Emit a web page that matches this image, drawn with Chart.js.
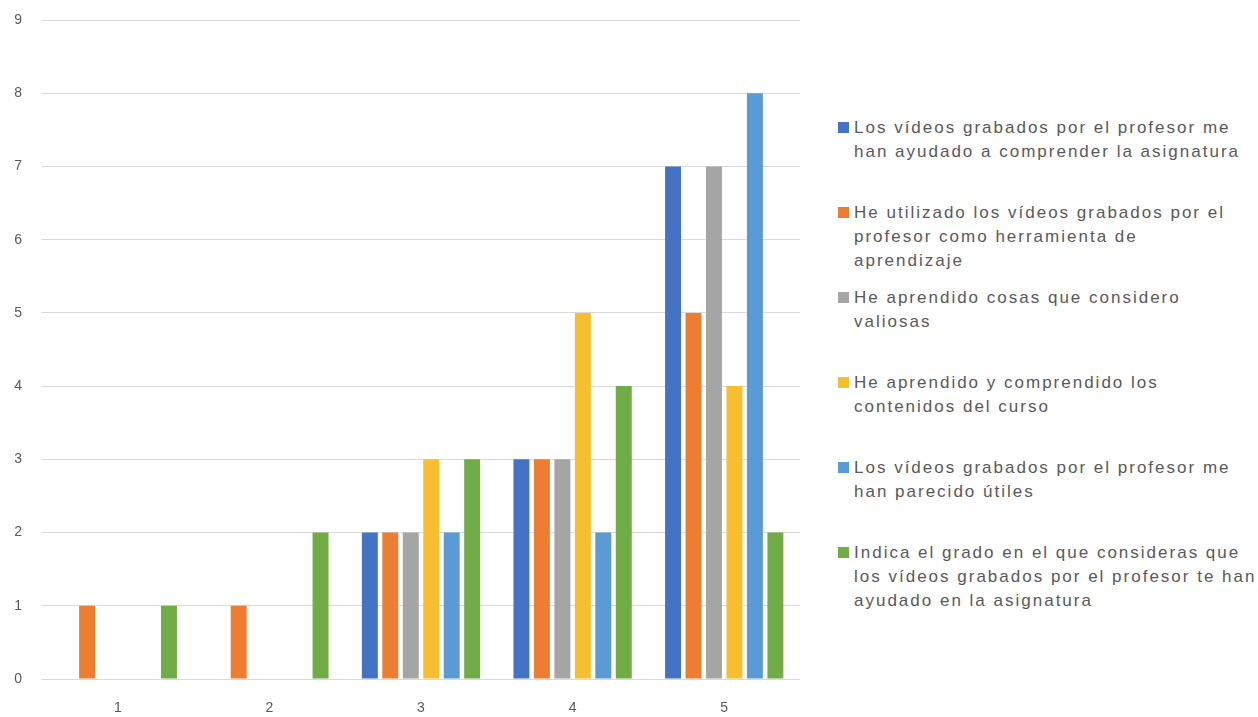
<!DOCTYPE html>
<html>
<head>
<meta charset="utf-8">
<script src="https://cdn.jsdelivr.net/npm/chart.js@4"></script>
<style>
  html, body { margin: 0; padding: 0; background: #fff; }
  #wrap { position: relative; width: 1258px; height: 717px; }
  #chartBox { position: absolute; left: 0; top: 0; width: 810px; height: 717px; }
  #legend { position: absolute; left: 838px; top: 0; width: 420px; }
  .item { position: absolute; left: 0; font-family: "Liberation Sans", Arial, sans-serif; font-size: 17px; line-height: 24px; color: #595959; letter-spacing: 2px; white-space: pre; }
  .item span.box { position: absolute; left: 0; top: 6px; width: 11px; height: 11px; }
  .item span.txt { display: block; margin-left: 16px; }
</style>
</head>
<body>
<div id="wrap">
  <div id="chartBox"><canvas id="myChart"></canvas></div>
  <div id="legend"></div>
</div>
<script>
const categories = ["1", "2", "3", "4", "5"];

const seriesNames = [
  "Los vídeos grabados por el profesor me\nhan ayudado a comprender la asignatura",
  "He utilizado los vídeos grabados por el\nprofesor como herramienta de\naprendizaje",
  "He aprendido cosas que considero\nvaliosas",
  "He aprendido y comprendido los\ncontenidos del curso",
  "Los vídeos grabados por el profesor me\nhan parecido útiles",
  "Indica el grado en el que consideras que\nlos vídeos grabados por el profesor te han\nayudado en la asignatura",
];

const ayudadoComprender = [0, 0, 2, 3, 7];
const herramientaAprendizaje = [1, 1, 2, 3, 5];
const cosasValiosas = [0, 0, 2, 3, 7];
const contenidosCurso = [0, 0, 3, 5, 4];
const parecidoUtiles = [0, 0, 2, 2, 8];
const gradoAyuda = [1, 2, 3, 4, 2];

const seriesColors = ["#4472C4", "#ED7D31", "#A5A5A5", "#F7BE2F", "#5B9BD5", "#70AD47"];

const seriesValues = [
  ayudadoComprender,
  herramientaAprendizaje,
  cosasValiosas,
  contenidosCurso,
  parecidoUtiles,
  gradoAyuda,
];

const datasets = seriesValues.map((values, i) => ({
  label: seriesNames[i],
  data: values,
  backgroundColor: seriesColors[i],
  borderWidth: 0,
  categoryPercentage: 0.81,
  barPercentage: 0.78,
}));

// legend on the right, one fixed slot per series
const legend = document.getElementById("legend");
seriesNames.forEach((name, i) => {
  const item = document.createElement("div");
  item.className = "item";
  item.style.top = 116 + i * 85 + "px";
  const box = document.createElement("span");
  box.className = "box";
  box.style.background = seriesColors[i];
  const txt = document.createElement("span");
  txt.className = "txt";
  txt.textContent = name;
  item.appendChild(box);
  item.appendChild(txt);
  legend.appendChild(item);
});

const tickFont = { family: "'Liberation Sans', Arial, sans-serif", size: 14 };

window.chart = new Chart(document.getElementById("myChart"), {
  type: "bar",
  data: { labels: categories, datasets },
  options: {
    responsive: true,
    maintainAspectRatio: false,
    animation: false,
    layout: { padding: { top: 20, right: 10, left: 0, bottom: 0 } },
    plugins: {
      legend: { display: false },
      tooltip: { enabled: false },
    },
    scales: {
      x: {
        grid: { display: false, drawTicks: false },
        border: { display: false },
        ticks: { color: "#595959", font: tickFont, padding: 21 },
        afterFit: (scale) => { scale.height = 38; },
      },
      y: {
        min: 0,
        max: 9,
        grid: { color: "#d9d9d9", lineWidth: 1, drawTicks: false },
        border: { display: false },
        ticks: { stepSize: 1, color: "#595959", font: tickFont, padding: 20 },
        afterFit: (scale) => {
          scale.width = 42;
          // the tick padding would otherwise push the plot down
          scale.paddingTop = 0;
          scale.paddingBottom = 0;
        },
      },
    },
  },
});
</script>
</body>
</html>
